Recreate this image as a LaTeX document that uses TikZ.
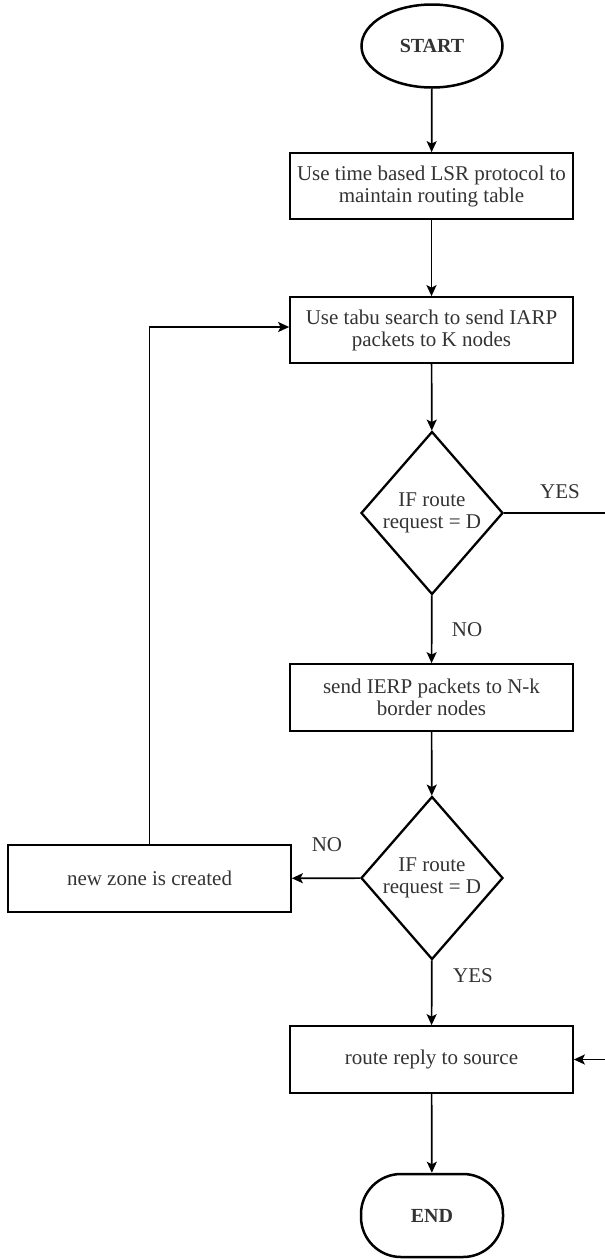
\documentclass[tikz,border=0pt]{standalone}
\usepackage{fontspec}
\setmainfont{Liberation Serif}
\usetikzlibrary{shapes.geometric,arrows.meta}
\begin{document}
\begin{tikzpicture}[x=1pt,y=-1pt,
  every node/.style={font=\fontsize{21}{22}\selectfont, text=black!80},
  procbox/.style={draw, line width=1.7pt, rectangle, minimum width=283pt, minimum height=66pt, inner sep=0pt, align=center},
  decision/.style={draw, line width=2.3pt, diamond, minimum width=142pt, minimum height=163pt, inner sep=0pt, align=center},
  terminal/.style={draw, line width=2.5pt, inner sep=0pt, font=\fontsize{20}{22}\selectfont\bfseries},
  flow/.style={line width=1.7pt, -{Stealth[length=11pt,width=10pt,inset=2.5pt]}},
  lbl/.style={inner sep=0pt}
]
\useasboundingbox (0,0) rectangle (605,1259);
\clip (0,0) rectangle (605,1259);
\node[terminal, ellipse, minimum width=141pt, minimum height=83pt] (start) at (432,46) {START};
\node[procbox] (b1) at (431.5,186) {Use time based LSR protocol to\\maintain routing table};
\node[procbox] (b2) at (431.5,330) {Use tabu search to send IARP\\packets to K nodes};
\node[decision] (d1) at (432,513) {IF route\\request = D};
\node[procbox, minimum height=67pt] (b3) at (431.5,697.5) {send IERP packets to N-k\\border nodes};
\node[decision] (d2) at (432,878) {IF route\\request = D};
\node[procbox, minimum height=67pt] (b4) at (149.5,878.5) {new zone is created};
\node[procbox, minimum height=67pt] (b5) at (431.5,1059.5) {route reply to source};
\node[terminal, rectangle, rounded corners=40pt, minimum width=142pt, minimum height=83pt] (end) at (432,1215.5) {END};
\coordinate (rt) at (612,513);
\node[lbl] (yes1) at (560,492) {YES};
\node[lbl] (no1) at (467,630) {NO};
\node[lbl] (no2) at (327,845) {NO};
\node[lbl] (yes2) at (473,976) {YES};
\draw[flow] (start) -- (b1);
\draw[flow] (b1) -- (b2);
\draw[flow] (b2) -- (d1);
\draw[flow] (d1) -- (b3);
\draw[flow] (b3) -- (d2);
\draw[flow] (d2) -- (b4);
\draw[flow] (b4.north) |- ([yshift=3pt]b2.west);
\draw[flow] (d2) -- (b5);
\draw[flow] (b5) -- (end);
\draw[flow] (d1.east) -- (rt) |- (b5.east);
\end{tikzpicture}
\end{document}
